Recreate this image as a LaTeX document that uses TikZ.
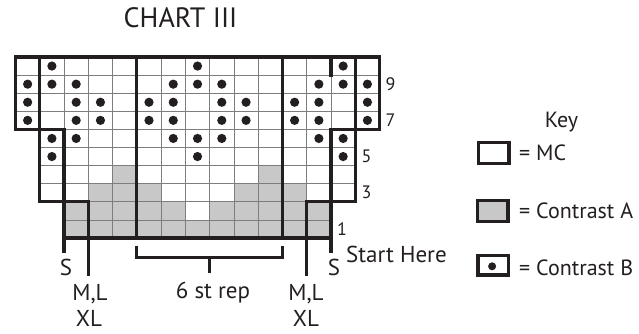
\documentclass[tikz,border=0pt]{standalone}
\usepackage{fontspec}
\setmainfont{PT Sans}
\definecolor{ink}{RGB}{35,31,32}
\definecolor{cA}{RGB}{200,200,200}
\definecolor{gridc}{RGB}{125,125,125}
\begin{document}
\begin{tikzpicture}[x=1pt,y=-1pt,
  cellbox/.style={draw=gridc, line width=0.8pt},
  heavy/.style={draw=ink, line width=3.2pt, line cap=rect, line join=miter},
  bracketline/.style={draw=ink, line width=3pt, line cap=butt, line join=miter},
  lbl/.style={text=ink, font=\fontsize{23}{23}\selectfont, inner sep=0pt},
  keytxt/.style={text=ink, font=\fontsize{22}{22}\selectfont, inner sep=0pt, anchor=base west},
  num/.style={text=ink, font=\fontsize{18}{18}\selectfont, inner sep=0pt, anchor=west},
  keybox/.style={draw=ink, line width=3.2pt, inner sep=0pt, minimum width=30.7pt, minimum height=21pt}]
\useasboundingbox (0,0) rectangle (639,333);
\fill[white] (0,0) rectangle (639,333);

\node[text=ink, font=\fontsize{28}{28}\selectfont, inner sep=0pt, anchor=base] (title) at (180.5,27.3) {CHART III};

\begin{scope}[shift={(15.5,57)}, x=24.27pt, y=-18.1pt]
  % Contrast A cells
  \foreach \c/\k in {4/6,10/6,3/7,4/7,5/7,9/7,10/7,11/7,2/8,3/8,4/8,5/8,6/8,8/8,9/8,10/8,11/8,12/8}
    \fill[cA] (\c,\k) rectangle ++(1,1);
  \foreach \c in {2,...,12} \fill[cA] (\c,9) rectangle ++(1,1);
  % grid
  \foreach \k in {0,...,3} \foreach \c in {0,...,14} \draw[cellbox] (\c,\k) rectangle ++(1,1);
  \foreach \k in {4,...,7} \foreach \c in {1,...,13} \draw[cellbox] (\c,\k) rectangle ++(1,1);
  \foreach \k in {8,9} \foreach \c in {2,...,12} \draw[cellbox] (\c,\k) rectangle ++(1,1);
  % Contrast B dots
  \foreach \c in {1,7,13} \fill[ink] (\c+0.5,0.5) circle[radius=4.6pt];
  \foreach \c in {0,1,2,6,7,8,12,13,14} \fill[ink] (\c+0.5,1.5) circle[radius=4.6pt];
  \foreach \k in {2,3} \foreach \c in {0,2,3,5,6,8,9,11,12,14} \fill[ink] (\c+0.5,\k+0.5) circle[radius=4.6pt];
  \foreach \c in {1,2,6,7,8,12,13} \fill[ink] (\c+0.5,4.5) circle[radius=4.6pt];
  \foreach \c in {1,7,13} \fill[ink] (\c+0.5,5.5) circle[radius=4.6pt];
  % heavy outlines
  \draw[heavy] (0,0) -- (15,0) -- (15,4) -- (14,4) -- (14,8) -- (13,8) -- (13,10) -- (2,10) -- (2,8) -- (1,8) -- (1,4) -- (0,4) -- cycle;
  \draw[heavy] (1,0) -- (1,4) -- (2,4) -- (2,8) -- (3,8) -- (3,10);
  \draw[heavy] (14,0) -- (14,4) -- (13,4) -- (13,8) -- (12,8) -- (12,10);
  \draw[heavy] (13,0) -- (13,1);
  \draw[heavy] (5,0) -- (5,10);
  \draw[heavy] (11,0) -- (11,10);
  % size markers
  \coordinate (sLend) at (2,10.83);
  \coordinate (mLend) at (3,12.1);
  \coordinate (mRend) at (12,12.1);
  \coordinate (sRend) at (13,10.83);
  \draw[heavy, line cap=butt] (2,10) -- (sLend);
  \draw[heavy, line cap=butt] (3,10) -- (mLend);
  \draw[heavy, line cap=butt] (12,10) -- (mRend);
  \draw[heavy, line cap=butt] (13,10) -- (sRend);
  % repeat bracket
  \coordinate (bl) at (5,10.44);
  \coordinate (br) at (11,10.44);
  \coordinate (bm) at (8,11.05);
  \coordinate (bt) at (8,11.93);
  \draw[bracketline] (bl) -- (5,11.05) -- (11,11.05) -- (br);
  \draw[bracketline] (bm) -- (bt);
\end{scope}

% row numbers
\node[num] (n9) at (385.5,84.15) {9};
\node[num] (n7) at (385.5,120.35) {7};
\node[num] (n5) at (361.3,156.55) {5};
\node[num] (n3) at (361.3,192.75) {3};
\node[num] (n1) at (337,228.95) {1};

% bottom labels
\node[lbl, anchor=base] (sL) at (66,275) {S};
\node[lbl, anchor=base] (mlL) at (90,300.5) {M,L};
\node[lbl, anchor=base] (xlL) at (89,326) {XL};
\node[lbl, anchor=base] (rep) at (213,298) {6 st rep};
\node[lbl, anchor=base] (mlR) at (306,300.5) {M,L};
\node[lbl, anchor=base] (xlR) at (306,326) {XL};
\node[lbl, anchor=base] (sR) at (334,275) {S};
\node[lbl, anchor=base west] (start) at (346,262) {Start Here};

% key
\node[keytxt, anchor=base] (key) at (561.5,127) {Key};
\node[keybox, fill=white] (bmc) at (493.6,152.9) {};
\node[keybox, fill=cA] (bca) at (492.6,211) {};
\node[keybox, fill=white, minimum height=19.4pt] (bcb) at (493.3,265.3) {};
\fill[ink] (bcb.center) ++(-1.2,1) circle[radius=4pt];
\node[keytxt] (tmc) at (519,160) {= MC};
\node[keytxt] (tca) at (519,218) {= Contrast A};
\node[keytxt] (tcb) at (519,275.7) {= Contrast B};
\end{tikzpicture}
\end{document}
